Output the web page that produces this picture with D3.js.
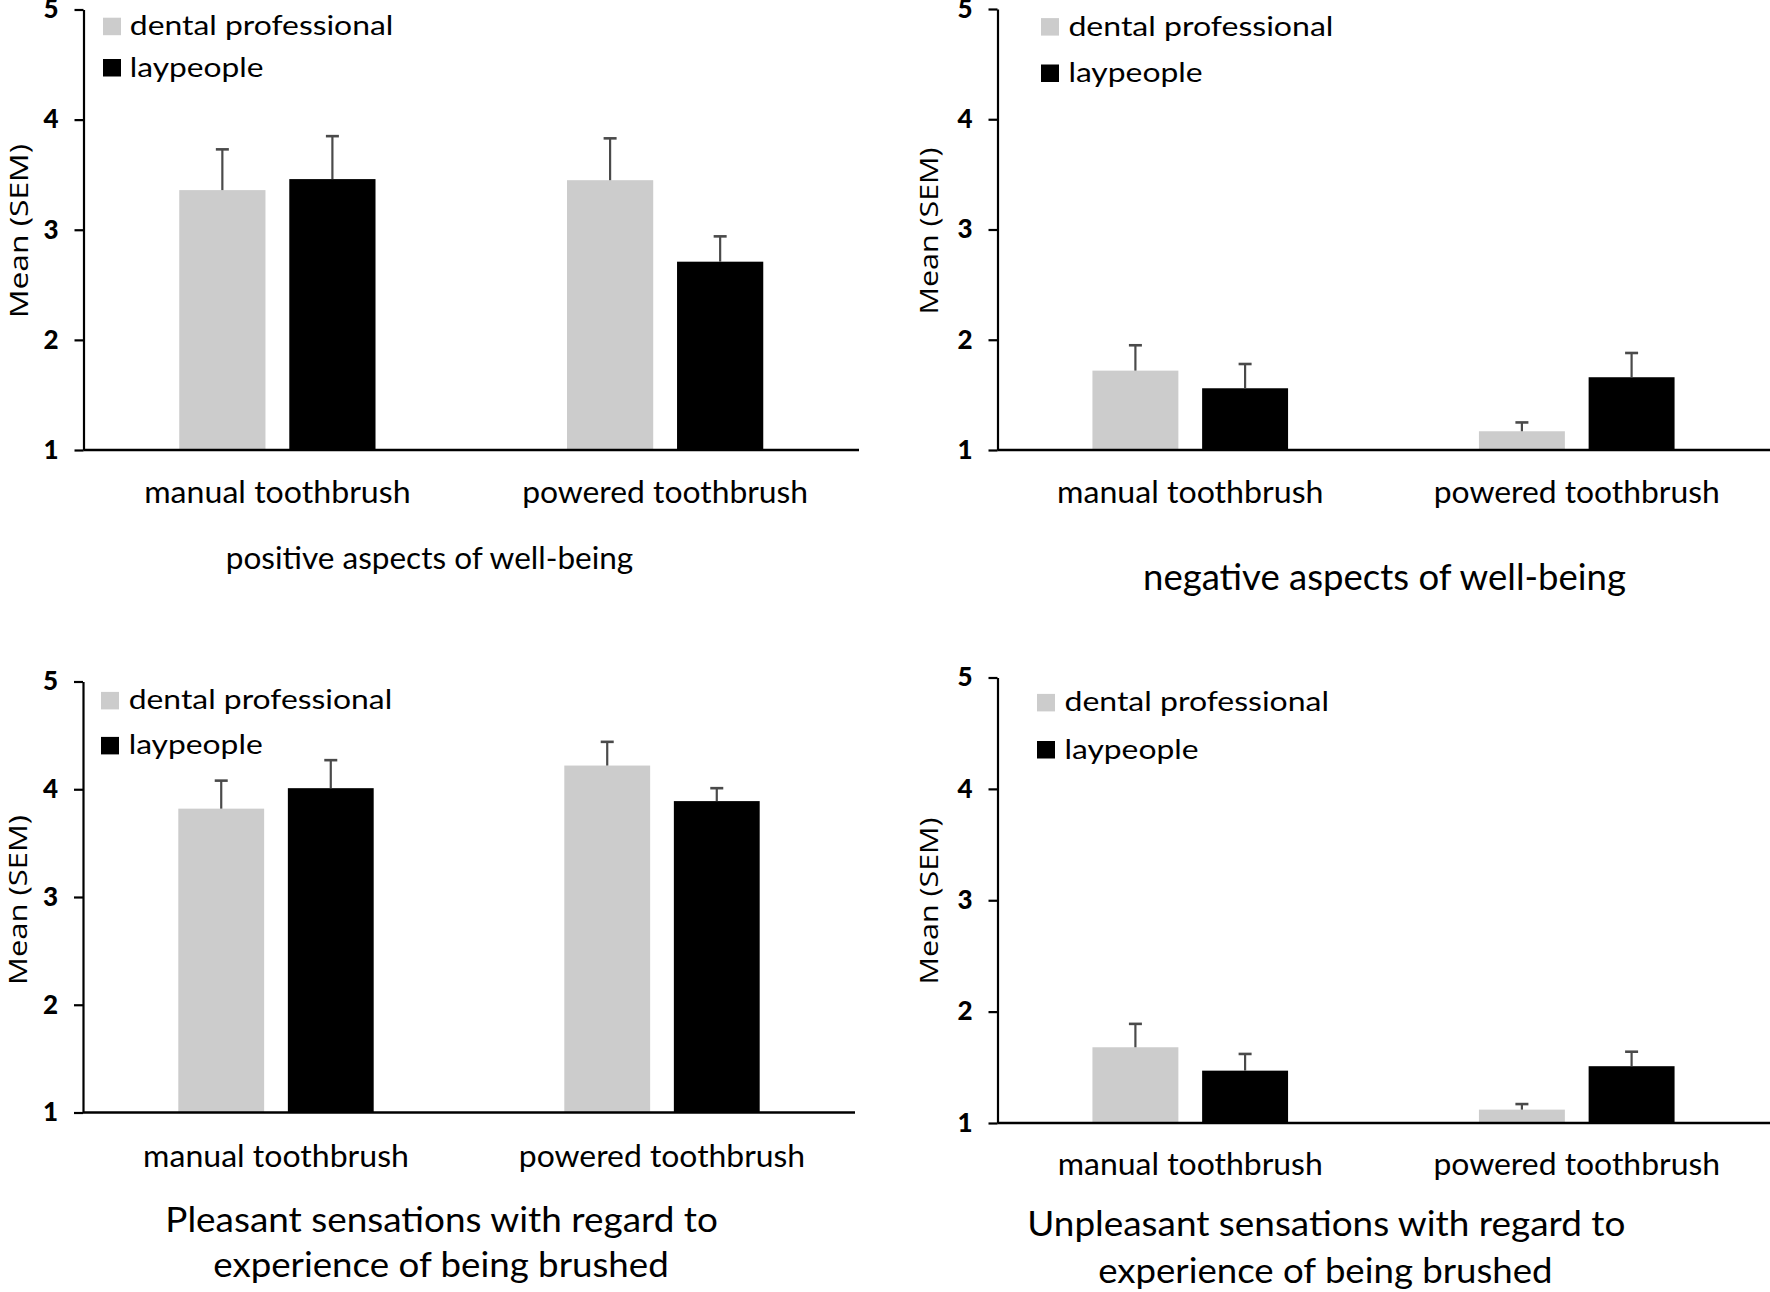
<!DOCTYPE html>
<html><head><meta charset="utf-8">
<script src="https://cdn.jsdelivr.net/npm/d3@7"></script>
<style>body{margin:0;background:#fff} svg{display:block}</style>
</head><body><svg id="c" width="1770" height="1292"></svg>
<script>
// ---------- data ----------
const categories = ["manual toothbrush", "powered toothbrush"];
const seriesNames = ["dental professional", "laypeople"];
const yTickValues = [1, 2, 3, 4, 5];

const positiveDental = [3.36, 3.45];
const positiveDentalSem = [0.37, 0.38];
const positiveLay = [3.46, 2.71];
const positiveLaySem = [0.39, 0.23];

const negativeDental = [1.72, 1.17];
const negativeDentalSem = [0.23, 0.08];
const negativeLay = [1.56, 1.66];
const negativeLaySem = [0.22, 0.22];

const pleasantDental = [3.82, 4.22];
const pleasantDentalSem = [0.26, 0.22];
const pleasantLay = [4.01, 3.89];
const pleasantLaySem = [0.26, 0.12];

const unpleasantDental = [1.68, 1.12];
const unpleasantDentalSem = [0.21, 0.05];
const unpleasantLay = [1.47, 1.51];
const unpleasantLaySem = [0.15, 0.13];

const panelTitles = [
  ["positive aspects of well-being"],
  ["negative aspects of well-being"],
  ["Pleasant sensations with regard to", "experience of being brushed"],
  ["Unpleasant sensations with regard to", "experience of being brushed"]
];
const yLabels = ["Mean  (SEM)", "Mean (SEM)", "Mean  (SEM)", "Mean (SEM)"];

// ---------- layout / style ----------
const seriesColors = ["#cccccc", "#000000"];
const errColor = "#4a4a4a";
const panels = [
  {dental: positiveDental, dSem: positiveDentalSem, lay: positiveLay, lSem: positiveLaySem,
   axisX: 83.5, band: [83.5, 859], axisEnd: 859, yr: [450, 9.5],
   leg: {sq: 103, tx: 129.8, base: [35.2, 76.5], w: [263.5, 133.7]},
   catBase: 503, catW: [266.4, 286],
   tl: [{cx: 429.5, base: 569, w: 407.5}], tsize: 30,
   yl: {x: 28, cy: 231, len: 174}},
  {dental: negativeDental, dSem: negativeDentalSem, lay: negativeLay, lSem: negativeLaySem,
   axisX: 997.5, band: [997, 1770], axisEnd: 1770, yr: [450, 9],
   leg: {sq: 1041, tx: 1068.4, base: [35.6, 82], w: [265, 134.3]},
   catBase: 503, catW: [266.5, 286],
   tl: [{cx: 1384.5, base: 590, w: 483}], tsize: 36,
   yl: {x: 938, cy: 231, len: 167}},
  {dental: pleasantDental, dSem: pleasantDentalSem, lay: pleasantLay, lSem: pleasantLaySem,
   axisX: 83, band: [83, 855], axisEnd: 855, yr: [1112.5, 681.5],
   leg: {sq: 101, tx: 128.7, base: [709.4, 754.4], w: [263.5, 134]},
   catBase: 1166.8, catW: [265.8, 286.3],
   tl: [{cx: 441.6, base: 1231.5, w: 552.5}, {cx: 441, base: 1276.5, w: 455.4}], tsize: 34,
   yl: {x: 27, cy: 900, len: 170}},
  {dental: unpleasantDental, dSem: unpleasantDentalSem, lay: unpleasantLay, lSem: unpleasantLaySem,
   axisX: 997.5, band: [997, 1770], axisEnd: 1770, yr: [1123, 677.5],
   leg: {sq: 1037, tx: 1064.5, base: [711.4, 758.5], w: [264.5, 134]},
   catBase: 1175, catW: [265, 286.6],
   tl: [{cx: 1326.3, base: 1235.6, w: 598}, {cx: 1325.4, base: 1282.7, w: 454.3}], tsize: 34,
   yl: {x: 938, cy: 901, len: 167}}
];

const svg = d3.select("#c");
svg.append("rect").attr("width", 1770).attr("height", 1292).attr("fill", "#fff");
const FONT = "Lato, 'Open Sans', sans-serif";

panels.forEach((p, pi) => {
  const g = svg.append("g");
  const y = d3.scaleLinear().domain([1, 5]).range(p.yr);
  const x = d3.scaleBand().domain(categories).range(p.band).padding(0);
  const xs = d3.scaleBand().domain(seriesNames).range([0, x.bandwidth()])
      .paddingInner(0.2165).paddingOuter(0.87);

  const rows = [];
  categories.forEach((c, i) => {
    rows.push({cat: c, s: seriesNames[0], v: p.dental[i], e: p.dSem[i], col: seriesColors[0]});
    rows.push({cat: c, s: seriesNames[1], v: p.lay[i], e: p.lSem[i], col: seriesColors[1]});
  });

  // bars
  g.selectAll("rect.bar").data(rows).join("rect").attr("class", "bar")
    .attr("x", d => x(d.cat) + xs(d.s))
    .attr("width", xs.bandwidth())
    .attr("y", d => y(d.v))
    .attr("height", d => y(1) - y(d.v))
    .attr("fill", d => d.col);

  // error bars (upper only)
  const eb = g.selectAll("g.eb").data(rows).join("g").attr("class", "eb");
  eb.append("line")
    .attr("x1", d => x(d.cat) + xs(d.s) + xs.bandwidth() / 2)
    .attr("x2", d => x(d.cat) + xs(d.s) + xs.bandwidth() / 2)
    .attr("y1", d => y(d.v)).attr("y2", d => y(d.v + d.e))
    .attr("stroke", errColor).attr("stroke-width", 2.2);
  eb.append("line")
    .attr("x1", d => x(d.cat) + xs(d.s) + xs.bandwidth() / 2 - 6.5)
    .attr("x2", d => x(d.cat) + xs(d.s) + xs.bandwidth() / 2 + 6.5)
    .attr("y1", d => y(d.v + d.e)).attr("y2", d => y(d.v + d.e))
    .attr("stroke", errColor).attr("stroke-width", 2.6);

  // y axis
  const ya = g.append("g").attr("transform", `translate(${p.axisX},0)`)
    .call(d3.axisLeft(y).tickValues(yTickValues).tickFormat(d3.format("d"))
      .tickSize(9).tickSizeOuter(0).tickPadding(16));
  ya.select(".domain").attr("stroke", "#000").attr("stroke-width", 2.2);
  ya.selectAll(".tick line").attr("stroke", "#000").attr("stroke-width", 2.2);
  ya.selectAll(".tick text").attr("font-family", FONT).attr("font-weight", "900")
    .attr("font-size", 26).attr("fill", "#000");

  // x axis line
  g.append("line").attr("x1", p.axisX).attr("x2", p.axisEnd)
    .attr("y1", y(1)).attr("y2", y(1)).attr("stroke", "#000").attr("stroke-width", 2.6);

  // category labels
  g.selectAll("text.cat").data(categories).join("text").attr("class", "cat")
    .attr("x", d => x(d) + x.bandwidth() / 2)
    .attr("y", p.catBase)
    .attr("text-anchor", "middle")
    .attr("font-family", FONT).attr("font-size", 30).attr("fill", "#000")
    .attr("textLength", (d, i) => p.catW[i]).attr("lengthAdjust", "spacingAndGlyphs")
    .text(d => d);

  // titles
  panelTitles[pi].forEach((t, li) => {
    const L = p.tl[li];
    g.append("text").attr("x", L.cx).attr("y", L.base).attr("text-anchor", "middle")
      .attr("font-family", FONT).attr("font-size", p.tsize).attr("fill", "#000")
      .attr("textLength", L.w).attr("lengthAdjust", "spacingAndGlyphs")
      .text(t);
  });

  // legend
  seriesNames.forEach((s, si) => {
    g.append("rect").attr("x", p.leg.sq).attr("y", p.leg.base[si] - 17.5)
      .attr("width", 18).attr("height", 17.5).attr("fill", seriesColors[si]);
    g.append("text").attr("x", p.leg.tx).attr("y", p.leg.base[si])
      .attr("font-family", FONT).attr("font-size", 26).attr("fill", "#000")
      .attr("textLength", p.leg.w[si]).attr("lengthAdjust", "spacingAndGlyphs")
      .text(s);
  });

  // y label
  g.append("text")
    .attr("transform", `translate(${p.yl.x},${p.yl.cy}) rotate(-90)`)
    .attr("text-anchor", "middle")
    .attr("font-family", "'Open Sans', 'DejaVu Sans', sans-serif").attr("font-size", 25).attr("fill", "#000")
    .attr("textLength", p.yl.len).attr("lengthAdjust", "spacingAndGlyphs")
    .text(yLabels[pi]);
});
</script></body></html>
